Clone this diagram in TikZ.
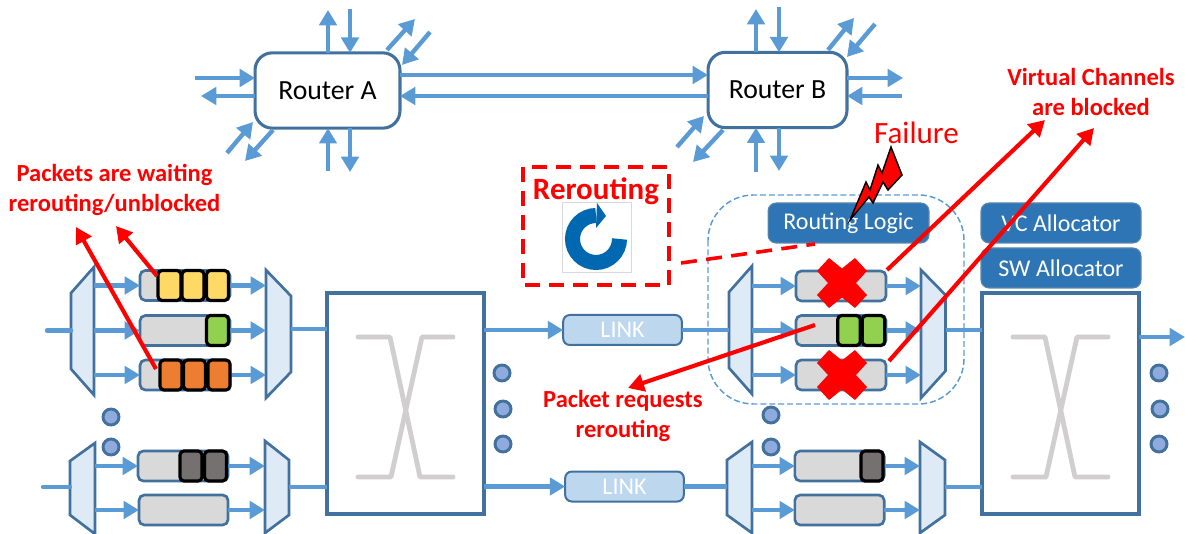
\documentclass[tikz,border=0pt]{standalone}
\usepackage{fontspec}
\setmainfont{Carlito}
\usetikzlibrary{arrows.meta,fit}
\definecolor{flowc}{HTML}{5B9BD5}
\definecolor{edgec}{HTML}{41719C}
\definecolor{muxc}{HTML}{DEEAF6}
\definecolor{bufc}{HTML}{D9D9D9}
\definecolor{linkc}{HTML}{BDD7EE}
\definecolor{logicc}{HTML}{2E75B6}
\definecolor{dotc}{HTML}{8FAADC}
\definecolor{xgray}{HTML}{D0CECE}
\definecolor{pyellow}{HTML}{FFD966}
\definecolor{pgreen}{HTML}{92D050}
\definecolor{porange}{HTML}{ED7D31}
\definecolor{pgray}{HTML}{767171}
\definecolor{iconc}{HTML}{0067B1}
\newcommand{\fsz}[1]{\fontsize{#1}{#1}\selectfont}
% trapezoid: name, long side x, y top, y bottom, short side x, y top, y bottom
\newcommand{\trapez}[7]{%
  \draw[trapstyle] (#2,#3) -- (#5,#6) -- (#5,#7) -- (#2,#4) -- cycle;
  \coordinate (#1-a) at (#2,#3);
  \coordinate (#1-b) at (#5,#4);
  \node[inner sep=0pt,outer sep=0pt,fit=(#1-a)(#1-b)] (#1) {};
}
\newcommand{\redcross}[2]{%
  \fill[red,shift={(#1,#2)}] (-13,-25) -- (0,-14.5) -- (13,-25) -- (25,-12) -- (14,0) -- (25,12) -- (13,25) -- (0,14.5) -- (-13,25) -- (-25,12) -- (-14,0) -- (-25,-12) -- cycle;
}
\newcommand{\xgraphic}[1]{%
  \begin{scope}[shift={(#1,0)},xgray,line width=3.6pt,line cap=round,line join=round]
    \draw (358,337) -- (390,337) -- (420,477) -- (453,477);
    \draw (453,337) -- (422,337) -- (391,477) -- (358,477);
  \end{scope}
}
\tikzset{
  flow/.style={draw=flowc,line width=3.3pt,-{Triangle[length=11.5pt,width=13pt]}},
  plainflow/.style={draw=flowc,line width=3.3pt},
  redarrow/.style={draw=red,line width=3.1pt,-{Triangle[length=12pt,width=13pt]}},
  trapstyle/.style={draw=edgec,fill=muxc,line width=2pt,line join=miter},
  buffer/.style={draw=edgec,fill=bufc,line width=2pt,rounded corners=4pt,inner sep=0pt,outer sep=0pt,minimum height=22.5pt},
  packet/.style={draw=black,line width=2.4pt,rounded corners=3pt,inner sep=0pt,outer sep=0pt,minimum height=22.5pt,minimum width=16.5pt},
  router/.style={draw=edgec,fill=white,line width=2.3pt,rounded corners=13pt,inner sep=0pt,outer sep=0pt,minimum height=56.5pt,font=\fsz{20.8}},
  xbar/.style={draw=edgec,fill=white,line width=2.6pt,inner sep=0pt,outer sep=0pt,minimum width=117.7pt,minimum height=165.7pt},
  linkbox/.style={draw=edgec,fill=linkc,line width=1.5pt,rounded corners=5pt,inner sep=0pt,outer sep=0pt,minimum width=89pt,minimum height=22.5pt,text=white,font=\fsz{18}},
  logic/.style={draw=edgec!85,fill=logicc,line width=.8pt,rounded corners=6pt,inner sep=0pt,outer sep=0pt,minimum height=30pt,text=white,font=\fsz{18}},
  dotn/.style={circle,draw=edgec,fill=dotc,line width=2.2pt,inner sep=0pt,outer sep=0pt,minimum size=12pt},
  redlabel/.style={text=red,font=\fsz{18.4}\bfseries,align=center,inner sep=0pt},
}
\begin{document}
\begin{tikzpicture}[x=0.75pt,y=-0.75pt]
\useasboundingbox (0,0) rectangle (1185,534);

% routers
\node[router,minimum width=108.7pt] (ra) at (327.5,90.5) {Router A};
\node[router,minimum width=104.2pt] (rb) at (777.5,90) {Router B};
\draw[flow] (ra.east |- 0,75) -- (rb.west |- 0,75);
\draw[flow] (rb.west |- 0,96) -- (ra.east |- 0,96);

% router A stubs
\coordinate (a1) at (195,78);   \draw[flow] (a1) -- (ra.west |- a1);
\coordinate (a2) at (201,96);   \draw[flow] (ra.west |- a2) -- (a2);
\coordinate (a3) at (328,10);   \draw[flow] (ra.north -| a3) -- (a3);
\coordinate (a4) at (350,9);    \draw[flow] (a4) -- (ra.north -| a4);
\coordinate (a5) at (328,171);  \draw[flow] (a5) -- (ra.south -| a5);
\coordinate (a6) at (350,172);  \draw[flow] (ra.south -| a6) -- (a6);
\coordinate (a7s) at (387,50);  \coordinate (a7e) at (415,19);  \draw[flow] (a7s) -- (a7e);
\coordinate (a8s) at (430,32);  \coordinate (a8e) at (402,65);  \draw[flow] (a8s) -- (a8e);
\coordinate (a9s) at (227,153); \coordinate (a9e) at (253,122); \draw[flow] (a9s) -- (a9e);
\coordinate (a10s) at (273,130);\coordinate (a10e) at (245,161);\draw[flow] (a10s) -- (a10e);

% router B stubs
\coordinate (b1c) at (903,78);  \draw[flow] (rb.east |- b1c) -- (b1c);
\coordinate (b2c) at (902,96);  \draw[flow] (b2c) -- (rb.east |- b2c);
\coordinate (b3c) at (756,9);   \draw[flow] (rb.north -| b3c) -- (b3c);
\coordinate (b4c) at (779,7);   \draw[flow] (b4c) -- (rb.north -| b4c);
\coordinate (b5c) at (756,172); \draw[flow] (b5c) -- (rb.south -| b5c);
\coordinate (b6c) at (779,171); \draw[flow] (rb.south -| b6c) -- (b6c);
\coordinate (b7s) at (828,50);  \coordinate (b7e) at (854,18);  \draw[flow] (b7s) -- (b7e);
\coordinate (b8s) at (875,24);  \coordinate (b8e) at (847,57);  \draw[flow] (b8s) -- (b8e);
\coordinate (b9s) at (677,147); \coordinate (b9e) at (704,116); \draw[flow] (b9s) -- (b9e);
\coordinate (b10s) at (723,130);\coordinate (b10e) at (693,162);\draw[flow] (b10s) -- (b10e);

% failure region
\draw[flowc,line width=1.1pt,dash pattern=on 4.5pt off 2.2pt,rounded corners=34pt] (708,195) rectangle (964,404);

% crossbars
\node[xbar] (xb1) at (405.5,403.5) {};
\node[xbar] (xb2) at (1060.5,403.5) {};
\xgraphic{0}
\xgraphic{655}

% allocators / logic
\node[logic,minimum width=120.7pt] (rl) at (848.5,223) {Routing Logic};
\node[logic,minimum width=120pt] (vc) at (1061,223) {VC Allocator};
\node[logic,minimum width=120pt] (sw) at (1061,268) {SW Allocator};

% buffers
\node[buffer,minimum width=67.5pt] (u1) at (185,285.5) {};
\node[buffer,minimum width=67.5pt] (u2) at (185,330.5) {};
\node[buffer,minimum width=67.5pt] (u3) at (185,375) {};
\node[buffer,minimum width=67.5pt] (u4) at (183,466) {};
\node[buffer,minimum width=66.8pt] (u5) at (183.5,510) {};
\node[buffer,minimum width=67.5pt] (v1) at (841,286) {};
\node[buffer,minimum width=67.5pt] (v2) at (841,330.5) {};
\node[buffer,minimum width=67.5pt] (v3) at (841,375) {};
\node[buffer,minimum width=67pt] (v4) at (839.5,466) {};
\node[buffer,minimum width=67pt] (v5) at (839.5,510) {};

% trapezoids
\trapez{dl1}{94}{267}{395}{71}{293}{369}
\trapez{ml1}{266}{270}{398}{291}{296}{372}
\trapez{dl2}{95}{443}{534}{70}{461}{515}
\trapez{ml2}{265}{441}{533}{289}{460}{515}
\trapez{dr1}{752}{266}{394}{729}{292}{368}
\trapez{mr1}{921}{270}{398}{945.5}{295}{371}
\trapez{dr2}{752}{442}{533}{727}{460}{515}
\trapez{mr2}{920}{442}{533}{945}{460}{515}

% links
\node[linkbox] (l1) at (622.5,330) {LINK};
\node[linkbox] (l2) at (624.5,486.5) {LINK};

% connectors
\coordinate (inl1) at (47,330.5);
\coordinate (inl2) at (43,487);
\coordinate (xi1) at (327,329);
\coordinate (xi2) at (327,487);
\coordinate (xi3) at (982,330);
\coordinate (xi4) at (982,487);
\coordinate (outc) at (1185,337);
\draw[plainflow,line cap=round] (inl1) -- (dl1.west |- inl1);
\draw[plainflow,line cap=round] (inl2) -- (dl2.west |- inl2);
\foreach \bb/\dd/\mm in {u1/dl1/ml1,u2/dl1/ml1,u3/dl1/ml1,u4/dl2/ml2,u5/dl2/ml2,v1/dr1/mr1,v2/dr1/mr1,v3/dr1/mr1,v4/dr2/mr2,v5/dr2/mr2}{
  \draw[flow] (\dd.east |- \bb.west) -- (\bb.west);
  \draw[flow] (\bb.east) -- (\mm.west |- \bb.east);
}
\draw[plainflow] (ml1.east |- xi1) -- (xi1);
\draw[plainflow] (ml2.east |- xi2) -- (xi2);
\draw[plainflow] (mr1.east |- xi3) -- (xi3);
\draw[plainflow] (mr2.east |- xi4) -- (xi4);
\draw[flow] (xb1.east |- l1.west) -- (l1.west);
\draw[flow] (xb1.east |- l2.west) -- (l2.west);
\draw[plainflow] (l1.east) -- (dr1.west |- l1.east);
\draw[plainflow] (l2.east) -- (dr2.west |- l2.east);
\draw[flow] (xb2.east |- outc) -- (outc);

% packets
\node[packet,fill=pyellow,minimum width=17.2pt] (p1) at (169.5,285.5) {};
\node[packet,fill=pyellow] (p2) at (193,285.5) {};
\node[packet,fill=pyellow] (p3) at (217.5,285.5) {};
\node[packet,fill=pgreen] (p4) at (217.5,330.5) {};
\node[packet,fill=porange] (p5) at (171,375) {};
\node[packet,fill=porange] (p6) at (194.5,375) {};
\node[packet,fill=porange] (p7) at (219,375) {};
\node[packet,fill=pgray] (p8) at (191,466) {};
\node[packet,fill=pgray] (p9) at (215.5,466) {};
\node[packet,fill=pgreen,minimum width=17pt] (p10) at (849,330.5) {};
\node[packet,fill=pgreen,minimum width=17pt] (p11) at (873.5,330.5) {};
\node[packet,fill=pgray] (p12) at (872,466) {};

% dots
\node[dotn] (d1) at (111,417) {};
\node[dotn] (d2) at (111,447) {};
\node[dotn] (d3) at (502,373) {};
\node[dotn] (d4) at (503,409) {};
\node[dotn] (d5) at (503,444) {};
\node[dotn] (d6) at (771,415) {};
\node[dotn] (d7) at (771,447) {};
\node[dotn] (d8) at (1159,373) {};
\node[dotn] (d9) at (1160,409) {};
\node[dotn] (d10) at (1159,444) {};

% red crosses
\redcross{842}{283}
\redcross{842}{375}

% rerouting box
\draw[red,line width=3.2pt,dash pattern=on 11pt off 7pt] (523,167) rectangle (669,285);
\node[text=red,font=\fsz{23.25}\bfseries,inner sep=0pt] (rr) at (596,191) {Rerouting};
\draw[black!15,fill=white,line width=.6pt] (562,202) rectangle (631,272);
\draw[iconc,line width=11.25pt] (619.5,239) arc[start angle=0,end angle=270,radius=23.5];
\fill[iconc] (597,203) -- (606,216) -- (596,228) -- cycle;

% dashed link to routing logic
\coordinate (rrout) at (681,263);
\coordinate (rlin) at (815,244);
\draw[red,line width=2.7pt,dash pattern=on 12pt off 7pt] (rrout) -- (rlin);

% bolt
\draw[black,fill=red,line width=1.1pt,line join=miter] (850,220) -- (866,182) -- (870,190) -- (878,165) -- (882,173) -- (891,147) -- (902,175) -- (888,190) -- (883,182) -- (873,203) -- (869,197) -- cycle;
\node[text=red,font=\fsz{23.25},inner sep=0pt] (fail) at (916.5,133) {Failure};

% red labels
\node[redlabel] (lab1) at (114.5,190) {Packets are waiting\\[4.5pt]rerouting/unblocked};
\node[redlabel] (lab2) at (1091,92) {Virtual Channels\\[4pt]are blocked};
\node[redlabel] (lab3) at (623,416) {Packet requests\\[4pt]rerouting};

% red arrows
\coordinate (r1s) at (157,276); \coordinate (r1e) at (116,226);
\coordinate (r2s) at (156,369); \coordinate (r2e) at (76,227);
\coordinate (r3s) at (887,270); \coordinate (r3e) at (1045,120);
\coordinate (r4s) at (889,361); \coordinate (r4e) at (1094,128);
\coordinate (r5s) at (815,325); \coordinate (r5e) at (628,388);
\draw[redarrow] (r1s) -- (r1e);
\draw[redarrow] (r2s) -- (r2e);
\draw[redarrow] (r3s) -- (r3e);
\draw[redarrow] (r4s) -- (r4e);
\draw[redarrow] (r5s) -- (r5e);
\end{tikzpicture}
\end{document}
